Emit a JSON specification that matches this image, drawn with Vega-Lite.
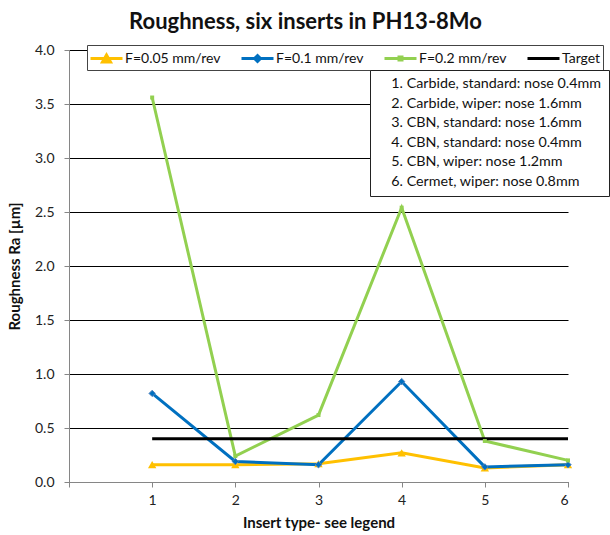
{
  "$schema": "https://vega.github.io/schema/vega-lite/v6.json",
  "width": 499,
  "height": 432,
  "autosize": "none",
  "padding": {"left": 69, "top": 50, "right": 42, "bottom": 53},
  "background": "white",
  "config": {
    "font": "Lato",
    "view": {"stroke": null},
    "axis": {"labelFont": "Lato", "titleFont": "Lato", "labelColor": "#222", "titleColor": "#111", "labelFontSize": 14, "titleFontSize": 15, "titleFontWeight": "bold", "domainColor": "#868686", "tickColor": "#868686", "tickSize": 5}
  },
  "title": {"text": "Roughness, six inserts in PH13-8Mo", "fontSize": 22, "fontWeight": "bold", "font": "Lato", "color": "#111", "anchor": "middle", "frame": "group", "dx": -13, "offset": 9},
  "datasets": {
    "rough": [
      {"series": "F=0.05 mm/rev", "insert": 1, "ra": 0.16},
      {"series": "F=0.05 mm/rev", "insert": 2, "ra": 0.16},
      {"series": "F=0.05 mm/rev", "insert": 3, "ra": 0.17},
      {"series": "F=0.05 mm/rev", "insert": 4, "ra": 0.27},
      {"series": "F=0.05 mm/rev", "insert": 5, "ra": 0.13},
      {"series": "F=0.05 mm/rev", "insert": 6, "ra": 0.16},
      {"series": "F=0.1 mm/rev", "insert": 1, "ra": 0.82},
      {"series": "F=0.1 mm/rev", "insert": 2, "ra": 0.19},
      {"series": "F=0.1 mm/rev", "insert": 3, "ra": 0.16},
      {"series": "F=0.1 mm/rev", "insert": 4, "ra": 0.93},
      {"series": "F=0.1 mm/rev", "insert": 5, "ra": 0.14},
      {"series": "F=0.1 mm/rev", "insert": 6, "ra": 0.16},
      {"series": "F=0.2 mm/rev", "insert": 1, "ra": 3.56},
      {"series": "F=0.2 mm/rev", "insert": 2, "ra": 0.24},
      {"series": "F=0.2 mm/rev", "insert": 3, "ra": 0.62},
      {"series": "F=0.2 mm/rev", "insert": 4, "ra": 2.54},
      {"series": "F=0.2 mm/rev", "insert": 5, "ra": 0.38},
      {"series": "F=0.2 mm/rev", "insert": 6, "ra": 0.2},
      {"series": "Target", "insert": 1, "ra": 0.4},
      {"series": "Target", "insert": 6, "ra": 0.4}
    ],
    "notes": [
      {"note": "1. Carbide, standard: nose 0.4mm"},
      {"note": "2. Carbide, wiper: nose 1.6mm"},
      {"note": "3. CBN, standard: nose 1.6mm"},
      {"note": "4. CBN, standard: nose 0.4mm"},
      {"note": "5. CBN, wiper: nose 1.2mm"},
      {"note": "6. Cermet, wiper: nose 0.8mm"}
    ]
  },
  "layer": [
    {
      "data": {"name": "rough"},
      "mark": {"type": "line", "strokeWidth": 3},
      "encoding": {
        "x": {"field": "insert", "type": "quantitative", "scale": {"domain": [0, 6], "nice": false},
              "axis": {"values": [0, 1, 2, 3, 4, 5, 6], "format": "d", "grid": false, "title": "Insert type- see legend", "labelExpr": "datum.value == 0 ? '' : datum.label", "labelPadding": 6, "titlePadding": 8}},
        "y": {"field": "ra", "type": "quantitative", "scale": {"domain": [0, 4], "nice": false},
              "axis": {"values": [0, 0.5, 1, 1.5, 2, 2.5, 3, 3.5, 4], "format": ".1f", "grid": true, "gridColor": "#000", "gridWidth": 1, "gridOpacity": 1, "title": "Roughness Ra [µm]", "labelPadding": 10, "titlePadding": 12}},
        "color": {"field": "series", "type": "nominal",
          "scale": {"domain": ["F=0.05 mm/rev", "F=0.1 mm/rev", "F=0.2 mm/rev", "Target"], "range": ["#FFC000", "#0070C0", "#92D050", "#000000"]},
          "legend": {"title": null, "orient": "none", "direction": "horizontal", "legendX": 18, "legendY": -5,
            "fillColor": "white", "strokeColor": "#444", "padding": 2, "columnPadding": 14, "gridAlign": "none",
            "labelFont": "Lato", "labelFontSize": 14, "labelColor": "#111", "labelOffset": 13,
            "symbolSize": 400,
            "encode": {"symbols": {"update": {
              "shape": {"signal": "datum.value == 'F=0.05 mm/rev' ? 'M-1,0H2.2M0.2,0.35L0.6,-0.35L1,0.35Z' : datum.value == 'F=0.1 mm/rev' ? 'M-1,0H2.2M0.3,0L0.6,-0.3L0.9,0L0.6,0.3Z' : datum.value == 'F=0.2 mm/rev' ? 'M-1,0H2.2M0.45,-0.15H0.75V0.15H0.45Z' : 'M-1,0H2.2'"},
              "stroke": {"scale": "color", "field": "value"},
              "fill": {"scale": "color", "field": "value"},
              "strokeWidth": {"value": 3},
              "opacity": {"value": 1}
            }}}}
        }
      }
    },
    {
      "data": {"name": "rough"},
      "transform": [{"filter": "datum.series == 'F=0.05 mm/rev'"}],
      "mark": {"type": "point", "shape": "triangle-up", "filled": true, "opacity": 1, "size": 70, "color": "#FFC000"},
      "encoding": {"x": {"field": "insert", "type": "quantitative"}, "y": {"field": "ra", "type": "quantitative"}}
    },
    {
      "data": {"name": "rough"},
      "transform": [{"filter": "datum.series == 'F=0.1 mm/rev'"}],
      "mark": {"type": "point", "shape": "diamond", "filled": true, "opacity": 1, "size": 40, "color": "#0070C0", "stroke": "#4F81BD", "strokeWidth": 1},
      "encoding": {"x": {"field": "insert", "type": "quantitative"}, "y": {"field": "ra", "type": "quantitative"}}
    },
    {
      "data": {"name": "rough"},
      "transform": [{"filter": "datum.series == 'F=0.2 mm/rev'"}],
      "mark": {"type": "point", "shape": "square", "filled": true, "opacity": 1, "size": 16, "color": "#92D050"},
      "encoding": {"x": {"field": "insert", "type": "quantitative"}, "y": {"field": "ra", "type": "quantitative"}}
    },
    {
      "data": {"name": "notes"},
      "mark": {"type": "point", "opacity": 0},
      "encoding": {
        "fill": {"field": "note", "type": "nominal", "sort": null, "scale": {"range": ["white"]},
          "legend": {"title": null, "orient": "none", "legendX": 301, "legendY": 20, "fillColor": "white", "strokeColor": "#222", "padding": 7,
            "symbolSize": 0, "symbolOpacity": 0, "symbolStrokeWidth": 0, "labelOffset": 0, "rowPadding": 4.5,
            "labelFont": "Lato", "labelFontSize": 14.3, "labelColor": "#111", "labelLimit": 400}}
      }
    }
  ]
}
